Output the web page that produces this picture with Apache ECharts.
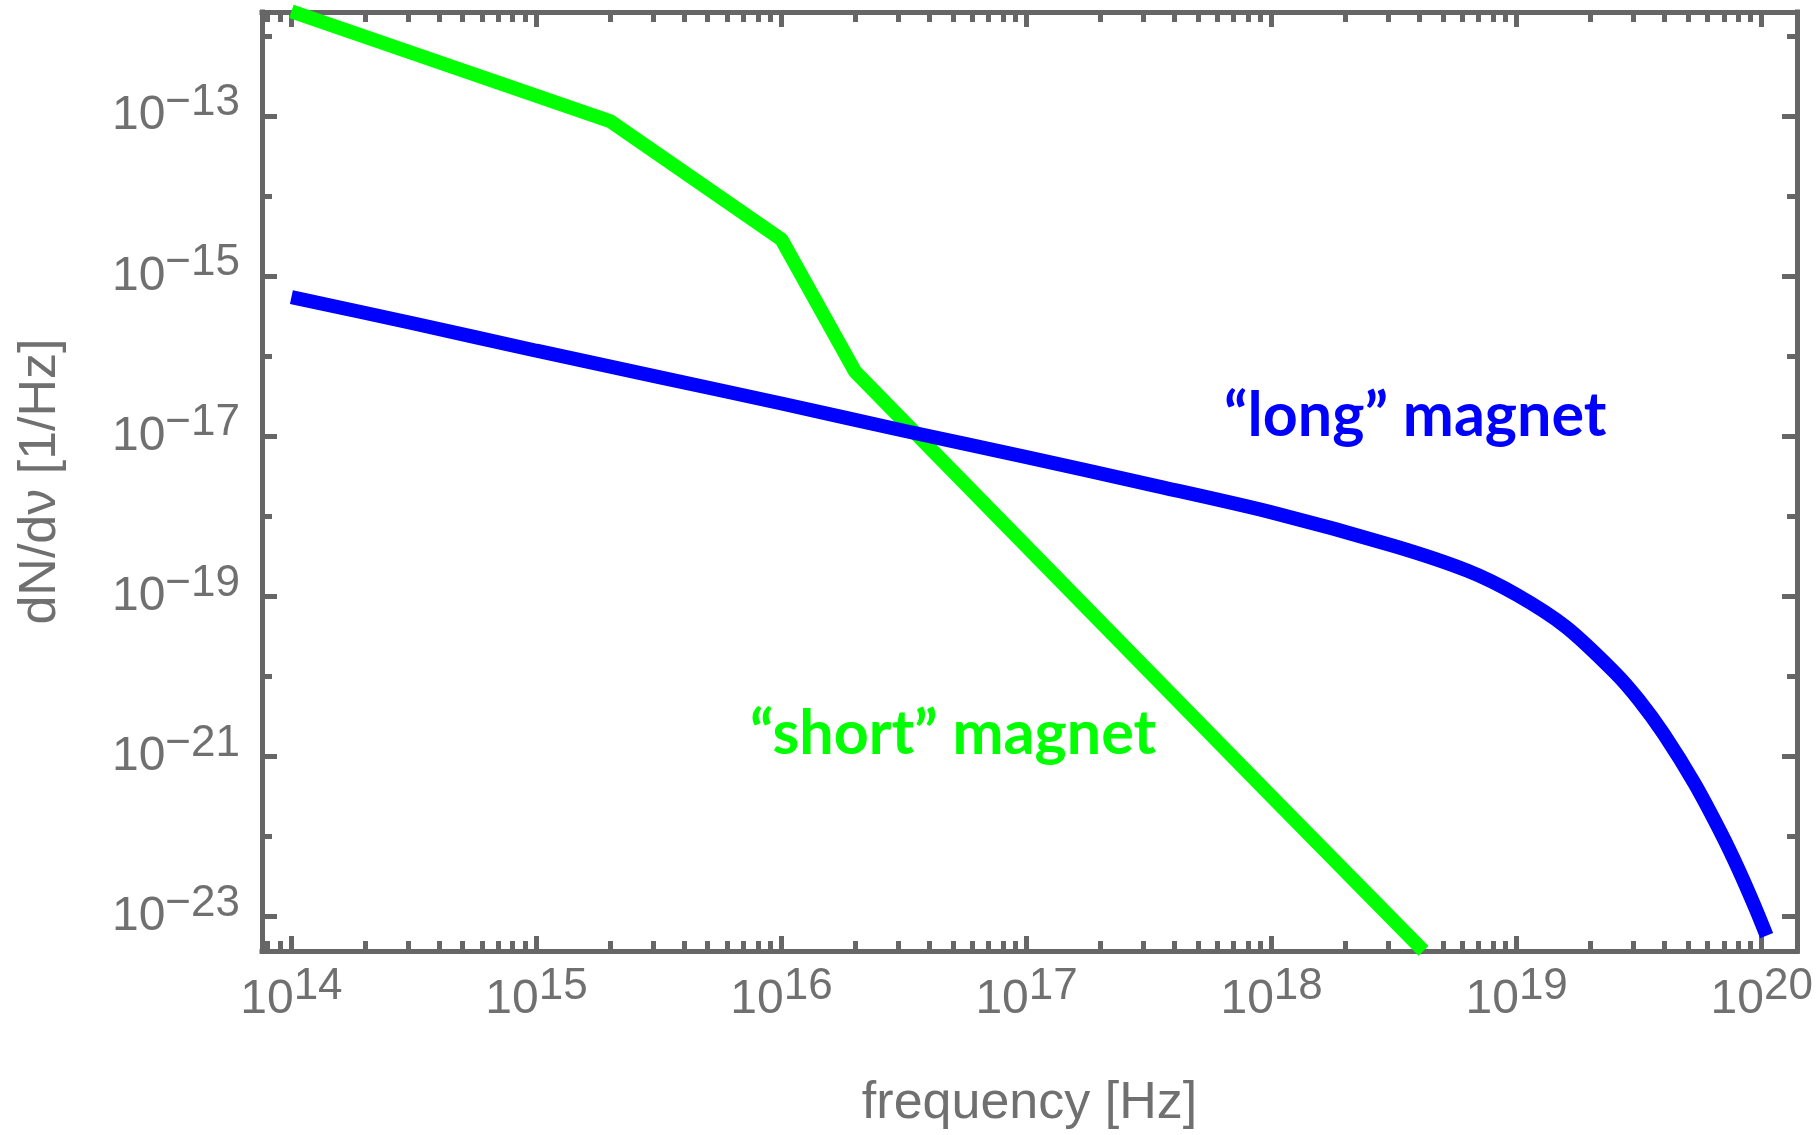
<!DOCTYPE html>
<html>
<head>
<meta charset="utf-8">
<script src="https://cdn.jsdelivr.net/npm/echarts@6/dist/echarts.min.js"></script>
<style>
  html, body { margin: 0; background: #fff; }
  #chart { width: 1819px; height: 1135px; }
</style>
</head>
<body>
<div id="chart"></div>
<script>
// values, kept as log10 exponents
// x: log10(frequency / Hz), y: log10(dN/dnu / (1/Hz))
const longFreqExp = [14.0, 14.5, 15.0, 15.5, 16.0, 16.5, 17.0, 17.5, 18.0, 18.5, 18.8, 19.0, 19.2, 19.4, 19.5, 19.6, 19.726, 19.836, 19.905, 19.975, 20.02];
const longRateExp = [-15.26, -15.59, -15.93, -16.26, -16.59, -16.93, -17.26, -17.60, -17.95, -18.37, -18.68, -18.98, -19.38, -19.95, -20.30, -20.72, -21.34, -21.97, -22.41, -22.90, -23.24];

const shortFreqExp = [14.0, 15.3, 16.0, 16.3, 17.503, 17.98, 18.62];
const shortRateExp = [-11.69, -13.06, -14.54, -16.19, -19.95, -21.44, -23.43];

// axis ticks
const xRange = [13.88, 20.144];
const yRange = [-23.432, -11.697];
const xMajor = [14, 15, 16, 17, 18, 19, 20];
const yMajor = [-23, -21, -19, -17, -15, -13];
const yMinor = [-22, -20, -18, -16, -14, -12];

const frameColor = '#666666';
const labelColor = '#707070';
const labelFont = 'Liberation Sans';

const xMinor = [];
for (let d = 13; d <= 20; d++) {
  for (let k = 2; k <= 9; k++) {
    const v = d + Math.log10(k);
    if (v > xRange[0] && v < xRange[1]) xMinor.push(v);
  }
}

const powerLabel = v => `{b|10}{s|${v < 0 ? '\u2212' : ''}${Math.abs(v)}}`;
const powerRich = {
  b: { fontSize: 48, lineHeight: 70, fontFamily: labelFont, color: labelColor },
  s: { fontSize: 44, lineHeight: 30, verticalAlign: 'top', fontFamily: labelFont, color: labelColor },
};

function axis(position, ticks, len, opts) {
  const vertical = position === 'left' || position === 'right';
  return Object.assign({
    type: 'value',
    position: position,
    min: vertical ? yRange[0] : xRange[0],
    max: vertical ? yRange[1] : xRange[1],
    splitLine: { show: false },
    axisLine: { show: false, onZero: false },
    axisTick: { show: true, inside: true, length: len, customValues: ticks, lineStyle: { color: frameColor, width: 5 } },
    axisLabel: { show: false },
  }, opts || {});
}

const frameLine = { show: true, onZero: false, lineStyle: { color: frameColor, width: 5, cap: 'square' } };

const chart = echarts.init(document.getElementById('chart'));
chart.setOption({
  animation: false,
  grid: { left: 262, top: 12, width: 1535, height: 950 },
  xAxis: [
    axis('bottom', xMajor, 15, {
      axisLine: frameLine,
      axisLabel: { show: true, customValues: xMajor, margin: 14, formatter: powerLabel, rich: powerRich },
      name: 'frequency [Hz]',
      nameLocation: 'middle',
      nameGap: 127,
      nameTextStyle: { fontSize: 52, fontFamily: labelFont, color: labelColor },
    }),
    axis('bottom', xMinor, 10),
    axis('top', xMajor, 15, { axisLine: frameLine }),
    axis('top', xMinor, 10),
  ],
  yAxis: [
    axis('left', yMajor, 15, {
      axisLine: frameLine,
      axisLabel: { show: true, customValues: yMajor, margin: 22, formatter: powerLabel, rich: powerRich },
      name: 'dN/d\u03bd [1/Hz]',
      nameLocation: 'middle',
      nameRotate: 90,
      nameGap: 195,
      nameTextStyle: { fontSize: 52, fontFamily: labelFont, color: labelColor },
    }),
    axis('left', yMinor, 10),
    axis('right', yMajor, 15, { axisLine: frameLine }),
    axis('right', yMinor, 10),
  ],
  series: [
    {
      name: 'short',
      type: 'line',
      data: shortFreqExp.map((x, i) => [x, shortRateExp[i]]),
      showSymbol: false,
      clip: false,
      lineStyle: { color: '#00ff00', width: 14 },
      z: 3,
    },
    {
      name: 'long',
      type: 'line',
      data: longFreqExp.map((x, i) => [x, longRateExp[i]]),
      showSymbol: false,
      clip: false,
      smooth: 0.3,
      lineStyle: { color: '#0000ff', width: 14 },
      z: 4,
    },
  ],
  graphic: [
    {
      type: 'text', left: 1224, top: 386, z: 10,
      style: { text: '\u201clong\u201d magnet', fill: '#0000ff', font: 'bold 61px Lato' },
    },
    {
      type: 'text', left: 750, top: 704, z: 10,
      style: { text: '\u201cshort\u201d magnet', fill: '#00ff00', font: 'bold 61px Lato' },
    },
  ],
});
</script>
</body>
</html>
